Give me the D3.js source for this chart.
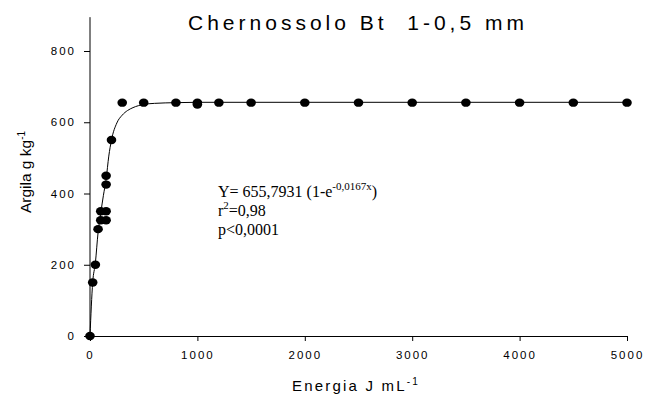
<!DOCTYPE html>
<html>
<head>
<meta charset="utf-8">
<script src="https://cdn.jsdelivr.net/npm/d3@7"></script>
<style>
  body { margin: 0; background: #fff; }
  svg text { font-family: Arial, "Liberation Sans", sans-serif; }
</style>
</head>
<body>
<div id="chart"></div>
<script>
// measured points: energy (J mL-1) vs clay (g kg-1)
var energy = [0, 25, 50, 75, 100, 100, 150, 150, 150, 150, 200, 300, 500, 800, 1000, 1000,
  1200, 1500, 2000, 2500, 3000, 3500, 4000, 4500, 5000]
var clay = [0, 150, 200, 300, 325, 350, 350, 325, 425, 450, 550, 655, 655, 655, 655, 650,
  655, 655, 655, 655, 655, 655, 655, 655, 655]

// fitted curve
var fitEnergy = [0, 25, 50, 75, 100, 125, 150, 175, 200, 250, 300, 350, 400, 500, 600, 800,
  1000, 1500, 2000, 3000, 4000, 5000]
var fitClay = [0, 150, 205, 290, 345, 395, 440, 505, 550, 598, 620, 633, 641, 650, 653, 655,
  656, 656, 656, 656, 656, 656]

var xTicks = [0, 1000, 2000, 3000, 4000, 5000]
var yTicks = [0, 200, 400, 600, 800]

var W = 648, H = 400
var svg = d3.select('#chart').append('svg').attr('width', W).attr('height', H)

var x = d3.scaleLinear().domain([0, 5000]).range([90, 627])
var y = d3.scaleLinear().domain([0, 800]).range([336, 51])

// ---- axes ----
var xAxis = svg.append('g').attr('transform', 'translate(0,' + y(0) + ')')
  .call(d3.axisBottom(x).tickValues(xTicks).tickFormat(d3.format('d'))
    .tickSize(5).tickPadding(10).tickSizeOuter(0))
var yAxis = svg.append('g').attr('transform', 'translate(' + x(0) + ',0)')
  .call(d3.axisLeft(y).tickValues(yTicks).tickFormat(d3.format('d'))
    .tickSize(6).tickPadding(8).tickSizeOuter(0))

// y axis runs above the last tick
yAxis.select('.domain').attr('d', 'M0,' + y(0) + 'V' + y(895))
;[xAxis, yAxis].forEach(function(g){
  g.selectAll('.domain, .tick line').attr('stroke', '#000').attr('stroke-width', 1)
  g.selectAll('.tick text').attr('fill', '#000').style('font-size', '11.5px')
    .style('letter-spacing', '2px')
})

// ---- fit curve ----
var line = d3.line()
  .x(function(d, i){ return x(fitEnergy[i]) })
  .y(function(d){ return y(d) })
  .curve(d3.curveMonotoneX)
svg.append('path').attr('d', line(fitClay))
  .attr('fill', 'none').attr('stroke', '#000').attr('stroke-width', 1)

// ---- points ----
svg.append('g').selectAll('ellipse').data(clay).enter().append('ellipse')
  .attr('cx', function(d, i){ return x(energy[i]) })
  .attr('cy', function(d){ return y(d) })
  .attr('rx', 4.8).attr('ry', 4.2).attr('fill', '#000')

// ---- title ----
svg.append('text').attr('x', 188).attr('y', 30)
  .style('font-size', '21px').style('letter-spacing', '4px').attr('fill', '#000')
  .attr('xml:space', 'preserve').text('Chernossolo Bt  1-0,5 mm')

// ---- axis titles ----
var xt = svg.append('text').attr('x', 356).attr('y', 391).attr('text-anchor', 'middle')
  .style('font-size', '15px').style('letter-spacing', '2.2px')
xt.append('tspan').text('Energia J mL')
xt.append('tspan').attr('dy', -6).style('font-size', '10px').text('-1')

var yt = svg.append('text').attr('transform', 'translate(31,172) rotate(-90)')
  .attr('text-anchor', 'middle').style('font-size', '15.5px')
yt.append('tspan').text('Argila g kg')
yt.append('tspan').attr('dy', -6).style('font-size', '10px').text('-1')

// ---- equation ----
var serif = '"Liberation Serif", "Times New Roman", serif'
var eq = svg.append('g')
var l1 = eq.append('text').attr('x', 218).attr('y', 197)
l1.append('tspan').text('Y= 655,7931 (1-e')
l1.append('tspan').attr('dy', -7).style('font-size', '11px').text('-0,0167x')
l1.append('tspan').attr('dy', 7).text(')')
var l2 = eq.append('text').attr('x', 218).attr('y', 216)
l2.append('tspan').text('r')
l2.append('tspan').attr('dy', -7).style('font-size', '11px').text('2')
l2.append('tspan').attr('dy', 7).text('=0,98')
eq.append('text').attr('x', 218).attr('y', 235).text('p<0,0001')
eq.selectAll('text').style('font-family', serif).style('font-size', '16px')
</script>
</body>
</html>
